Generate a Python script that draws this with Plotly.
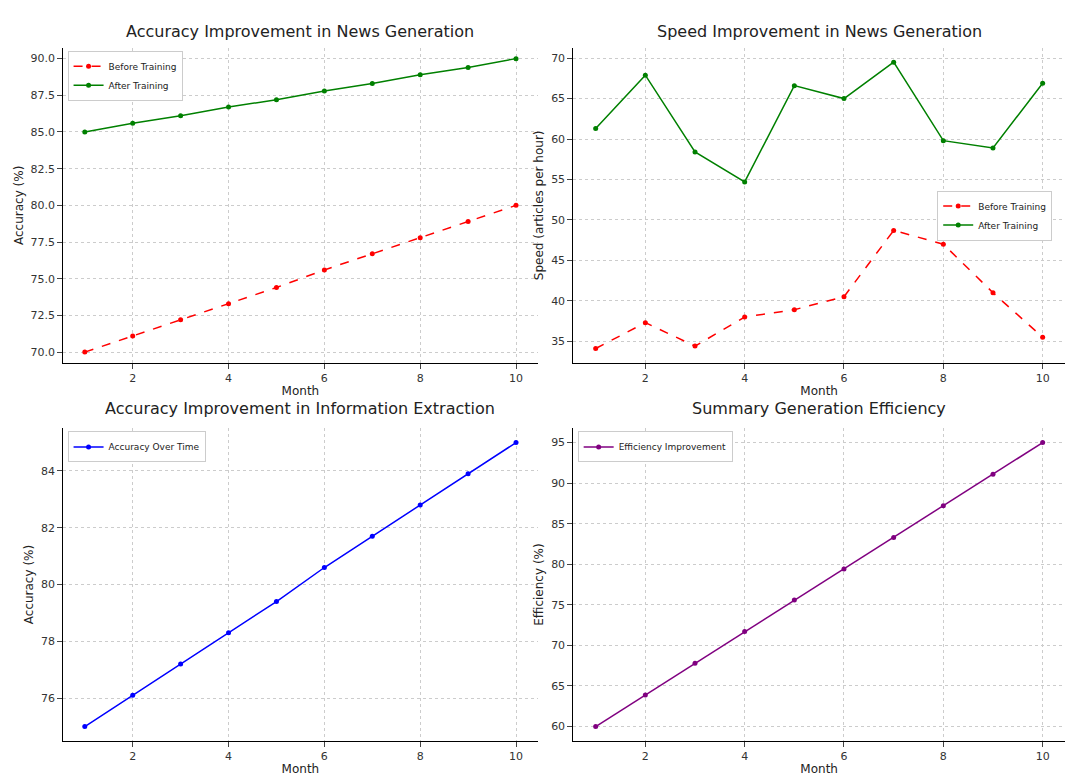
import plotly.graph_objects as go

months = [1, 2, 3, 4, 5, 6, 7, 8, 9, 10]
acc_before = [70.0, 71.1, 72.2, 73.3, 74.4, 75.6, 76.7, 77.8, 78.9, 80.0]
acc_after = [85.0, 85.6, 86.1, 86.7, 87.2, 87.8, 88.3, 88.9, 89.4, 90.0]
speed_before = [34.1, 37.3, 34.4, 38.0, 38.9, 40.5, 48.7, 47.0, 41.0, 35.5]
speed_after = [61.3, 67.9, 58.4, 54.7, 66.6, 65.0, 69.5, 59.8, 58.9, 66.9]
extract_acc = [75.0, 76.1, 77.2, 78.3, 79.4, 80.6, 81.7, 82.8, 83.9, 85.0]
efficiency = [60.0, 63.9, 67.8, 71.7, 75.6, 79.4, 83.3, 87.2, 91.1, 95.0]

fig = go.Figure()

def add(x, y, name, color, dash, xa, ya, legend):
    fig.add_trace(go.Scatter(x=x, y=y, name=name, mode='lines+markers',
                             line=dict(color=color, dash=dash, width=1.5),
                             marker=dict(size=5, color=color),
                             xaxis=xa, yaxis=ya, legend=legend))

add(months, acc_before, 'Before Training', 'red', 'dash', 'x', 'y', 'legend')
add(months, acc_after, 'After Training', 'green', 'solid', 'x', 'y', 'legend')
add(months, speed_before, 'Before Training', 'red', 'dash', 'x2', 'y2', 'legend2')
add(months, speed_after, 'After Training', 'green', 'solid', 'x2', 'y2', 'legend2')
add(months, extract_acc, 'Accuracy Over Time', 'blue', 'solid', 'x3', 'y3', 'legend3')
add(months, efficiency, 'Efficiency Improvement', 'purple', 'solid', 'x4', 'y4', 'legend4')

xl = [0.051, 0.489]
xr = [0.522, 0.976]
yt = [0.543, 0.949]
yb = [0.057, 0.459]

ax = dict(showline=True, linecolor='black', mirror=False, ticks='outside',
          showgrid=True, gridcolor='#cccccc', griddash='dot', zeroline=False,
          tickfont=dict(size=11, color='#333'))
xt = dict(ax, tickvals=[2, 4, 6, 8, 10], range=[0.55, 10.45],
          title=dict(text='Month', font=dict(size=12), standoff=2))

def ytitle(t):
    return dict(text=t, font=dict(size=12), standoff=4)

fig.update_layout(
    width=1083, height=777, plot_bgcolor='white', paper_bgcolor='white',
    font=dict(family='DejaVu Sans', color='#222'),
    margin=dict(l=0, r=0, t=0, b=0),
    xaxis=dict(xt, domain=xl, anchor='y'),
    yaxis=dict(ax, domain=yt, anchor='x', range=[69.25, 90.75], dtick=2.5, tickformat='.1f',
               title=ytitle('Accuracy (%)')),
    xaxis2=dict(xt, domain=xr, anchor='y2'),
    yaxis2=dict(ax, domain=yt, anchor='x2', range=[32.3, 71.3], dtick=5,
                title=ytitle('Speed (articles per hour)')),
    xaxis3=dict(xt, domain=xl, anchor='y3'),
    yaxis3=dict(ax, domain=yb, anchor='x3', range=[74.5, 85.5], dtick=2,
                title=ytitle('Accuracy (%)')),
    xaxis4=dict(xt, domain=xr, anchor='y4'),
    yaxis4=dict(ax, domain=yb, anchor='x4', range=[58.25, 96.75], dtick=5,
                title=ytitle('Efficiency (%)')),
)

leg = dict(bgcolor='white', bordercolor='#ccc', borderwidth=1, font=dict(size=9),
           xanchor='left', yanchor='top', tracegroupgap=0, itemwidth=30)
fig.update_layout(
    legend=dict(leg, x=0.055, y=0.945),
    legend2=dict(leg, x=0.858, y=0.765),
    legend3=dict(leg, x=0.055, y=0.455),
    legend4=dict(leg, x=0.526, y=0.455),
)

titles = [('Accuracy Improvement in News Generation', 0.27, 0.955),
          ('Speed Improvement in News Generation', 0.749, 0.955),
          ('Accuracy Improvement in Information Extraction', 0.27, 0.47),
          ('Summary Generation Efficiency', 0.749, 0.47)]
for t, x, y in titles:
    fig.add_annotation(text=t, x=x, y=y, xref='paper', yref='paper', showarrow=False,
                       xanchor='center', yanchor='bottom', font=dict(size=16))

fig.write_html("out.html")
